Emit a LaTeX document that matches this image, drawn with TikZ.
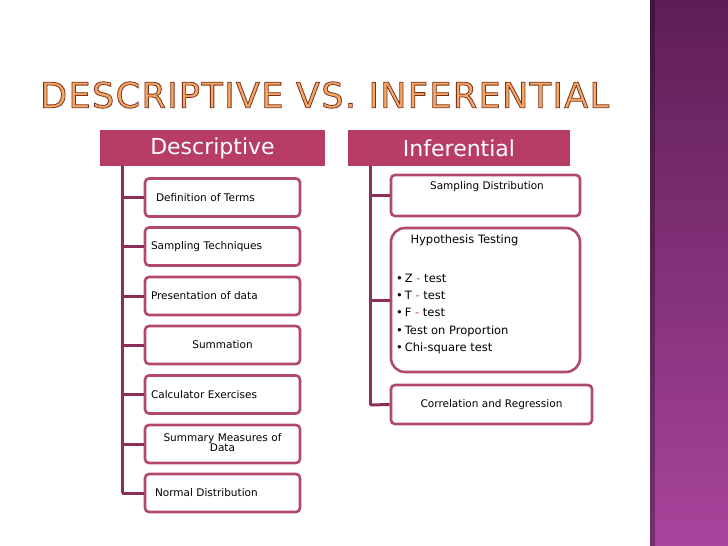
\documentclass[tikz,border=0pt]{standalone}
\usepackage{fontspec}
\setmainfont{DejaVu Sans}
\newfontfamily\titlefont[LetterSpace=4]{DejaVu Sans}
\usetikzlibrary{shadings}
\definecolor{hdr}{HTML}{B83D66}
\definecolor{bord}{HTML}{B04870}
\definecolor{spine}{HTML}{8B2E55}
\definecolor{bartop}{HTML}{5E1E55}
\definecolor{barbot}{HTML}{A8449C}
\begin{document}
\begin{tikzpicture}[x=1pt,y=-1pt,
  hdrbox/.style={fill=hdr,minimum height=36pt,text=white,font=\fontsize{22}{24}\selectfont,inner sep=0pt},
  leaf/.style={draw=bord,line width=2.6pt,rounded corners=4pt,fill=white,minimum height=38pt,inner sep=0pt,font=\fontsize{10.5}{12.5}\selectfont},
  wire/.style={draw=spine,line width=3pt}]
\useasboundingbox (0,0) rectangle (728,546);
\fill[white] (0,0) rectangle (728,546);
\shade[top color=bartop, bottom color=barbot] (650,0) rectangle (728,546);
\fill[black,opacity=0.3] (650,0) rectangle (655,546);
% title
\node[anchor=west,inner sep=0pt,font=\titlefont\fontsize{35}{36}\selectfont] (title) at (40,95)
 {\special{pdf:literal direct 2 Tr 0.8 w 0.48 0.19 0.13 RG 0.96 0.66 0.38 rg}DESCRIPTIVE VS. INFERENTIAL\special{pdf:literal direct 0 Tr}};
% headers
\node[hdrbox,minimum width=225pt] (D) at (212.5,148) {Descriptive};
\node[hdrbox,minimum width=222pt] (I) at (459,148) {Inferential};
% left leaves
\coordinate (ls) at (122,166);
\coordinate (le) at (122,493);
\draw[wire] (ls) -- (le);
\foreach \n/\y/\t in {d1/197.5/{\hspace*{5pt}Definition of Terms\hfill},
 d2/246.5/{Sampling Techniques\hfill},
 d3/296/{Presentation of data\hfill},
 d4/345/{\hfil Summation\hfil},
 d5/394.5/{Calculator Exercises\hfill},
 d6/444/{\hfil\begin{tabular}{@{}c@{}}Summary Measures of\\[-2pt]Data\end{tabular}\hfil},
 d7/493/{\hspace*{4pt}Normal Distribution\hfill}}{
  \node[leaf,minimum width=155pt,text width=143pt] (\n) at (222.5,\y) {\t};
  \draw[wire] (\n.west |- 0,\y) -- (122,\y);
}
% right
\coordinate (rs) at (370,166);
\coordinate (re) at (370,405);
\draw[wire] (rs) -- (re);
\node[leaf,minimum width=189pt,minimum height=41pt] (i1) at (485.5,195.5) {};
\node[font=\fontsize{10.5}{12}\selectfont] (i1t) at (487,187) {Sampling Distribution};
\node[leaf,rounded corners=14pt,minimum width=189pt,minimum height=144pt] (i2) at (485.5,300) {};
\node[anchor=west,font=\fontsize{11.5}{12}\selectfont] (i2t) at (407,240) {Hypothesis Testing};
\node[anchor=north west,align=left,font=\fontsize{11.5}{17.2}\selectfont,inner sep=0pt] (i2b) at (396,274)
 {\textbullet\,Z \textcolor{bord}{-} test\\ \textbullet\,T \textcolor{bord}{-} test\\ \textbullet\,F \textcolor{bord}{-} test\\ \textbullet\,Test on Proportion\\ \textbullet\,Chi-square test};
\node[leaf,minimum width=201pt,minimum height=39pt] (i3) at (491.5,404.5) {Correlation and Regression};
\draw[wire] (i1.west) -- (370,195.5);
\draw[wire] (i2.west) -- (370,300);
\draw[wire] (i3.west) -- (re);
\end{tikzpicture}
\end{document}
